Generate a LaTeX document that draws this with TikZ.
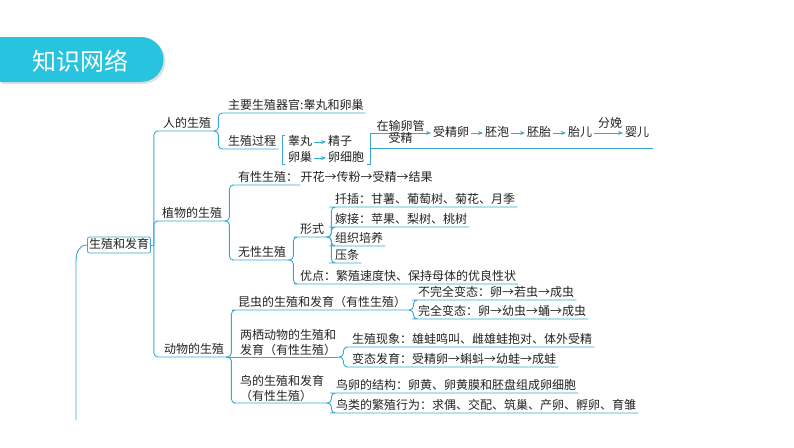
\documentclass[tikz,border=0pt]{standalone}
\usepackage{fontspec}
\newfontfamily\cjkfont{Noto Sans CJK SC}
\usetikzlibrary{arrows.meta}
\definecolor{mapblue}{HTML}{3AA8D2}
\definecolor{tabcyan}{HTML}{27C3DF}
\definecolor{inkgray}{HTML}{222222}

\begin{document}
\begin{tikzpicture}[x=1pt,y=-1pt,
  lbl/.style={font=\cjkfont\fontsize{12}{15}\selectfont,text=inkgray,inner xsep=2pt,inner ysep=1pt,text height=9pt,text depth=2pt},
  item/.style={lbl,anchor=south west},
  twoline/.style={font=\cjkfont\fontsize{12}{15}\selectfont,text=inkgray,inner xsep=2pt,inner ysep=1pt,anchor=south west,align=left},
  line/.style={draw=mapblue,line width=0.9pt,rounded corners=4pt},
  sq/.style={draw=mapblue,line width=0.9pt},
  arr/.style={draw=mapblue,line width=0.9pt,-{Stealth[length=5pt,width=4pt]}},
  rootbox/.style={lbl,draw=mapblue,line width=0.8pt,rounded corners=2pt,inner xsep=1.5pt,inner ysep=2.5pt}]
 \useasboundingbox (0,0) rectangle (794,447);
 \fill[black!12] (2,39) -- (143,39) arc[start angle=-90,end angle=90,radius=22.5] -- (2,84) -- cycle;
 \fill[tabcyan] (0,37) -- (141,37) arc[start angle=-90,end angle=90,radius=22.5] -- (0,82) -- cycle;
 \node[font=\cjkfont\fontsize{24}{24}\selectfont,text=white] (title) at (80,61) {知识网络};

 \node[rootbox] (root) at (119,245) {生殖和发育};
 \coordinate (tail) at (76,420);
 \draw[line] (root.west) .. controls (79,245) and (76,252) .. (76,266) -- (tail);

 \node[item] (human) at (161,131) {人的生殖};
 \node[item] (plant) at (160,221) {植物的生殖};
 \node[item] (animal) at (162,357) {动物的生殖};
 \draw[sq] (root.east) -- ++(3,0);
 \foreach \n in {human,plant,animal}
  \draw[line] ([xshift=3pt]root.east) |- (\n.south west) -- (\n.south east);

 % human
 \node[item] (organ) at (226,113) {主要生殖器官:睾丸和卵巢};
 \node[item] (process) at (226,149) {生殖过程};
 \foreach \n in {organ,process}
  \draw[line] (human.south east) -- ++(5,0) |- (\n.south west) -- (\n.south east);
 \node[lbl,anchor=west] (testis) at (286,142) {睾丸};
 \node[lbl,anchor=west] (sperm) at (326,142) {精子};
 \node[lbl,anchor=west] (ovary) at (286,158) {卵巢};
 \node[lbl,anchor=west] (ovum) at (326,158) {卵细胞};
 \draw[arr] (testis) -- (sperm);
 \draw[arr] (ovary) -- (ovum);
 \draw[sq] ([xshift=-1pt]testis.north west) -- ++(-3,0) |- ([xshift=-1pt]ovary.south west);
 \node[lbl,anchor=west] (zygote) at (431,133) {受精卵};
 \node[lbl,anchor=west] (blast) at (483,133) {胚泡};
 \node[lbl,anchor=west] (embryo) at (525,133) {胚胎};
 \node[lbl,anchor=west] (fetus) at (566,133) {胎儿};
 \node[lbl,anchor=west] (baby) at (623,133) {婴儿};
 \draw[sq,-{Stealth[length=5pt,width=4pt]}] ([xshift=1pt]ovum.south east) -- ++(3,0) |- (zygote.west)
  node[lbl,pos=0.75,above,inner ysep=0pt] {在输卵管} node[lbl,pos=0.75,below,inner ysep=0pt] {受精};
 \draw[arr] (zygote) -- (blast);
 \draw[arr] (blast) -- (embryo);
 \draw[arr] (embryo) -- (fetus);
 \draw[arr] (fetus) -- (baby);
 \node[lbl,inner ysep=0pt] (birth) at (610,124) {分娩};
 \coordinate (rmid) at (370,148);
 \coordinate (chainend) at (653,148);
 \draw[sq] (rmid) -- (chainend);

 % plant
 \node[item] (sexual) at (236,185) {有性生殖：};
 \node[lbl,anchor=south west,inner xsep=0pt] (sexrest) at (sexual.south east) {开花→传粉→受精→结果};
 \node[item] (asexual) at (236,260) {无性生殖};
 \foreach \n in {sexual,asexual}
  \draw[line] (plant.south east) -- ++(5,0) |- (\n.south west) -- (\n.south east);
 \node[item] (form) at (298,237) {形式};
 \node[item] (merit) at (298,284) {优点：繁殖速度快、保持母体的优良性状};
 \foreach \n in {form,merit}
  \draw[line] (asexual.south east) -- ++(5,0) |- (\n.south west) -- (\n.south east);
 \node[item] (cutting) at (333,207) {扦插：甘薯、葡萄树、菊花、月季};
 \node[item] (graft) at (333,227) {嫁接：苹果、梨树、桃树};
 \node[item] (tissue) at (333,246) {组织培养};
 \node[item] (layer) at (333,263) {压条};
 \foreach \n in {cutting,graft,tissue,layer}
  \draw[line] (form.south east) -- ++(5,0) |- (\n.south west) -- (\n.south east);

 % animal
 \node[item] (insect) at (236,310) {昆虫的生殖和发育（有性生殖）};
 \node[twoline] (amphib) at (238,357) {两栖动物的生殖和\\发育（有性生殖）};
 \node[twoline] (bird) at (238,403) {鸟的生殖和发育\\（有性生殖）};
 \foreach \n in {insect,bird}
  \draw[line] (animal.south east) -- ++(5,0) |- (\n.south west) -- (\n.south east);
 \draw[sq] (animal.south east) -- (amphib.south east);
 \node[item] (incomplete) at (416,300) {不完全变态：卵→若虫→成虫};
 \node[item] (complete) at (416,319) {完全变态：卵→幼虫→蛹→成虫};
 \foreach \n in {incomplete,complete}
  \draw[line] (insect.south east) -- ++(5,0) |- (\n.south west) -- (\n.south east);
 \node[item] (frogsex) at (350,347) {生殖现象：雄蛙鸣叫、雌雄蛙抱对、体外受精};
 \node[item] (frogdev) at (350,367) {变态发育：受精卵→蝌蚪→幼蛙→成蛙};
 \foreach \n in {frogsex,frogdev}
  \draw[line] (amphib.south east) -- ++(5,0) |- (\n.south west) -- (\n.south east);
 \node[item] (eggpart) at (334,393) {鸟卵的结构：卵黄、卵黄膜和胚盘组成卵细胞};
 \node[item] (birdact) at (334,413) {鸟类的繁殖行为：求偶、交配、筑巢、产卵、孵卵、育雏};
 \foreach \n in {eggpart,birdact}
  \draw[line] (bird.south east) -- ++(5,0) |- (\n.south west) -- (\n.south east);
\end{tikzpicture}
\end{document}
